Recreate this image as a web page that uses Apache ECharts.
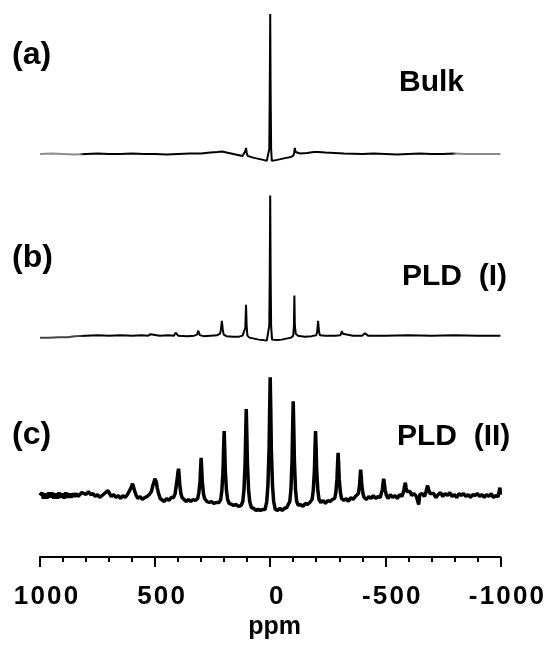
<!DOCTYPE html>
<html>
<head>
<meta charset="utf-8">
<script src="https://cdn.jsdelivr.net/npm/echarts@6/dist/echarts.min.js"></script>
<style>
  html, body { margin: 0; padding: 0; background: #fff; }
  #chart { width: 547px; height: 645px; }
</style>
</head>
<body>
<div id="chart"></div>
<script>
// spectra: [ppm, intensity above own baseline]
const spectrumA = [
  [1000,0],[950,0.5],[900,0],[850,-0.5],[800,0],[750,0.5],[700,0],[650,0],[600,0.5],[550,0],[500,0],[450,-0.5],
  [400,0],[350,0.5],[300,0.5],[260,1.5],[230,2],[210,2.5],[190,1.5],[160,0],[140,-1],[120,-2],[112,-1],[108,3],
  [105,6],[102,1],[98,-2],[85,-3],[70,-4],[50,-5],[30,-6],[15,-7],[7,-7],[4,5],[2,60],[0,141],[-2,60],[-4,5],
  [-7,-7],[-15,-7],[-30,-6],[-50,-5],[-70,-4],[-90,-3],[-100,-2],[-104,1],[-107,6],[-110,2],[-115,0],[-130,0.5],
  [-160,1],[-190,2],[-210,2],[-240,1.5],[-280,1],[-320,0.5],[-400,0],[-450,0.5],[-500,0],[-550,-0.5],[-600,0],
  [-650,0.5],[-700,0],[-750,0],[-800,0.5],[-850,0],[-900,0],[-950,0],[-1000,0]
];

const spectrumB = [
  [1000,-2],[960,-2],[920,-1.5],[880,-1.5],[850,-0.5],[800,0],[750,0.5],[700,0],[650,0.5],[600,0],[560,0.5],
  [530,0],[520,1.5],[516,0],[480,0],[440,0.5],[418,0],[414,1.5],[411,3],[408,1],[400,0],[360,-0.5],[330,0],
  [318,1],[314,3],[312,5],[310,3],[306,0.5],[290,-0.5],[260,0],[230,0.5],[218,2],[214,6],[210,15],[206,6],
  [202,1],[190,-0.5],[160,-1],[135,-1],[120,0],[112,2],[108,8],[105,31],[102,8],[99,0],[90,-2],[70,-3],[50,-4],
  [30,-4.5],[15,-5],[8,-4],[4,10],[2,60],[0,141],[-2,60],[-4,10],[-8,-4],[-15,-5],[-30,-4.5],[-50,-4],[-70,-3],
  [-90,-2],[-100,0],[-103,10],[-105,40.5],[-107,10],[-111,2],[-120,0],[-150,-1],[-180,-0.5],[-200,0.5],[-204,4],
  [-208,15],[-212,4],[-216,0.5],[-240,0],[-280,0],[-305,0.5],[-309,2],[-312,4.5],[-315,2],[-320,0],[-360,0],
  [-400,0],[-407,1],[-411,2.5],[-415,1],[-425,0],[-500,0],[-600,0.5],[-700,0],[-800,0.5],[-900,0],[-1000,0]
];

const spectrumC = [
  [1000,0],[992,3],[985,-3],[978,2],[970,-3],[962,3],[955,-2],[948,3],[940,-3],[932,2],[925,-3],[918,3],[910,-2],
  [902,2],[895,-3],[888,3],[880,-2],[872,2],[865,-2],[858,2],[850,-1],[842,2],[835,-1],[827,1],[818,3],[810,4],
  [800,1],[790,4],[780,1],[770,2],[760,-1],[750,1],[740,-2],[730,0],[720,2],[712,3],[705,5],[698,2],[690,-1],
  [680,1],[670,-2],[660,0],[650,-3],[640,0],[630,-2],[620,1],[612,3],[604,8],[598,12],[595,14],[592,10],[588,4],
  [582,0],[575,-3],[565,-1],[555,-4],[545,-2],[535,-1],[525,1],[516,4],[510,10],[504,14],[501,17],[498,19],
  [495,14],[491,8],[485,2],[478,-3],[470,-5],[460,-6],[450,-3],[440,-5],[430,-2],[420,-2],[413,2],[408,10],
  [403,19],[400.5,24],[398,27],[395.5,20],[393,11],[388,2],[383,-2],[375,-4],[365,-6],[355,-4],[345,-6],[335,-4],
  [325,-5],[315,-3],[310,3],[305,14],[302.5,27],[300,38],[297.5,27],[295,14],[290,2],[285,-3],[275,-6],[265,-7],
  [255,-6],[245,-8],[235,-7],[222,-7],[215,-4],[210,5],[205,25],[202.5,47],[200,65],[197.5,47],[195,25],[190,5],
  [185,-4],[178,-8],[168,-9],[158,-10],[148,-9],[138,-11],[126,-10],[119,-6],[114,6],[109,33],[106.5,62],[104,87],
  [101.5,62],[99,33],[94,6],[89,-6],[82,-12],[72,-13],[62,-15],[52,-14],[42,-15],[32,-14],[22,-14],[15,-6],[10,10],
  [5,46],[2.5,86],[0,119],[-2.5,86],[-5,46],[-10,10],[-15,-6],[-22,-14],[-32,-15],[-42,-13],[-52,-15],[-62,-13],
  [-72,-12],[-78,-12],[-85,-6],[-90,6],[-95,36],[-97.5,68],[-100,95],[-102.5,68],[-105,36],[-110,6],[-115,-6],
  [-122,-10],[-132,-9],[-142,-11],[-152,-8],[-162,-9],[-172,-7],[-178,-7],[-182,-4],[-187,5],[-192,25],[-194.5,47],
  [-197,65],[-199.5,47],[-202,25],[-207,5],[-212,-4],[-220,-7],[-230,-5],[-240,-8],[-250,-5],[-260,-6],[-270,-4],
  [-280,-3],[-285,3],[-290,16],[-292.5,31],[-295,43],[-297.5,31],[-300,16],[-305,3],[-310,-3],[-320,-5],[-330,-3],
  [-340,-6],[-350,-2],[-360,-4],[-370,-1],[-378,-2],[-383,2],[-388,10],[-390.5,19],[-393,26],[-395.5,19],[-398,10],
  [-403,2],[-408,-2],[-418,-4],[-428,-1],[-438,-3],[-448,0],[-458,-3],[-468,-1],[-478,-2],[-484,0],[-487,6],
  [-490,12],[-493,17],[-496,12],[-499,6],[-505,0],[-512,-3],[-522,1],[-532,-2],[-542,0],[-552,-3],[-562,1],
  [-572,-1],[-578,3],[-581,6],[-584,10],[-587,13],[-590,8],[-594,4],[-600,2],[-608,4],[-615,0],[-625,2],[-635,-1],
  [-645,-9],[-650,1],[-660,2],[-670,-1],[-676,3],[-680,7],[-684,10],[-688,6],[-694,2],[-702,0],[-710,2],[-720,-2],
  [-730,1],[-740,3],[-750,-1],[-760,2],[-770,0],[-780,3],[-790,-1],[-800,1],[-810,-2],[-820,2],[-830,0],[-840,2],
  [-850,-1],[-860,1],[-870,-2],[-880,1],[-890,0],[-900,2],[-910,-1],[-920,1],[-930,-2],[-940,1],[-950,-1],[-960,2],
  [-970,-2],[-980,0],[-990,-1],[-995,-3],[-998,8],[-1000,1]
];

const tickValues = [1000, 500, 0, -500, -1000];
const sampleLabels = ['(a)', '(b)', '(c)'];
const sampleNames = ['Bulk', 'PLD  (I)', 'PLD  (II)'];

// vertical stacking of the three traces
const baselineA = 406;
const baselineB = 223;
const baselineC = 62;

const shift = (pts, base) => pts.map(p => [p[0], p[1] + base]);

const fontFam = '"Liberation Sans", Arial, sans-serif';

function endFade(endColor, left, right) {
  const stops = [];
  if (left) {
    stops.push({ offset: 0, color: endColor }, { offset: 0.09, color: endColor }, { offset: 0.1, color: '#000' });
  } else {
    stops.push({ offset: 0, color: '#000' });
  }
  if (right) {
    stops.push({ offset: 0.89, color: '#000' }, { offset: 0.9, color: endColor }, { offset: 1, color: endColor });
  } else {
    stops.push({ offset: 1, color: '#000' });
  }
  return { type: 'linear', x: 0, y: 0, x2: 1, y2: 0, colorStops: stops };
}

const chart = echarts.init(document.getElementById('chart'));

const labelText = (txt, x, y, size) => ({
  type: 'text',
  left: x,
  top: y,
  style: {
    text: txt,
    font: 'bold ' + (size || 30) + 'px ' + fontFam,
    fill: '#000',
    textVerticalAlign: 'middle'
  }
});

const option = {
  animation: false,
  backgroundColor: '#fff',
  grid: { left: 40, right: 45, top: 0, bottom: 84 },
  xAxis: {
    type: 'value',
    min: -1000,
    max: 1000,
    interval: 500,
    inverse: true,
    splitLine: { show: false },
    axisLine: { lineStyle: { color: '#000', width: 2 } },
    axisTick: { length: 10, lineStyle: { color: '#000', width: 2 } },
    minorTick: { show: true, splitNumber: 5, length: 5, lineStyle: { color: '#000', width: 2 } },
    axisLabel: {
      margin: 27,
      color: '#000',
      fontSize: 26,
      fontWeight: 'bold',
      fontFamily: fontFam,
      padding: [0, 0, 0, 12],
      formatter: v => tickValues.includes(v) ? String(v).split('').join('\u200a') : ''
    },
    name: 'ppm',
    nameLocation: 'middle',
    nameGap: 46,
    nameTextStyle: { color: '#000', fontSize: 25, fontWeight: 'bold', fontFamily: fontFam, padding: [0, 0, 0, 9] }
  },
  yAxis: { type: 'value', min: 0, max: 561, show: false },
  series: [
    {
      type: 'line', data: shift(spectrumA, baselineA), showSymbol: false,
      lineStyle: { width: 2, color: endFade('#8c8c8c', true, true) }
    },
    {
      type: 'line', data: shift(spectrumB, baselineB), showSymbol: false,
      lineStyle: { width: 2, color: endFade('#444', true, false) }
    },
    {
      type: 'line', data: shift(spectrumC, baselineC), showSymbol: false,
      lineStyle: { width: 3.5, color: '#000' }
    }
  ],
  graphic: [
    labelText(sampleLabels[0], 12, 39, 32),
    labelText(sampleLabels[1], 12, 242, 32),
    labelText(sampleLabels[2], 12, 419, 32),
    labelText(sampleNames[0], 399, 68),
    labelText(sampleNames[1], 402, 262),
    labelText(sampleNames[2], 397, 422)
  ]
};

chart.setOption(option);
</script>
</body>
</html>
